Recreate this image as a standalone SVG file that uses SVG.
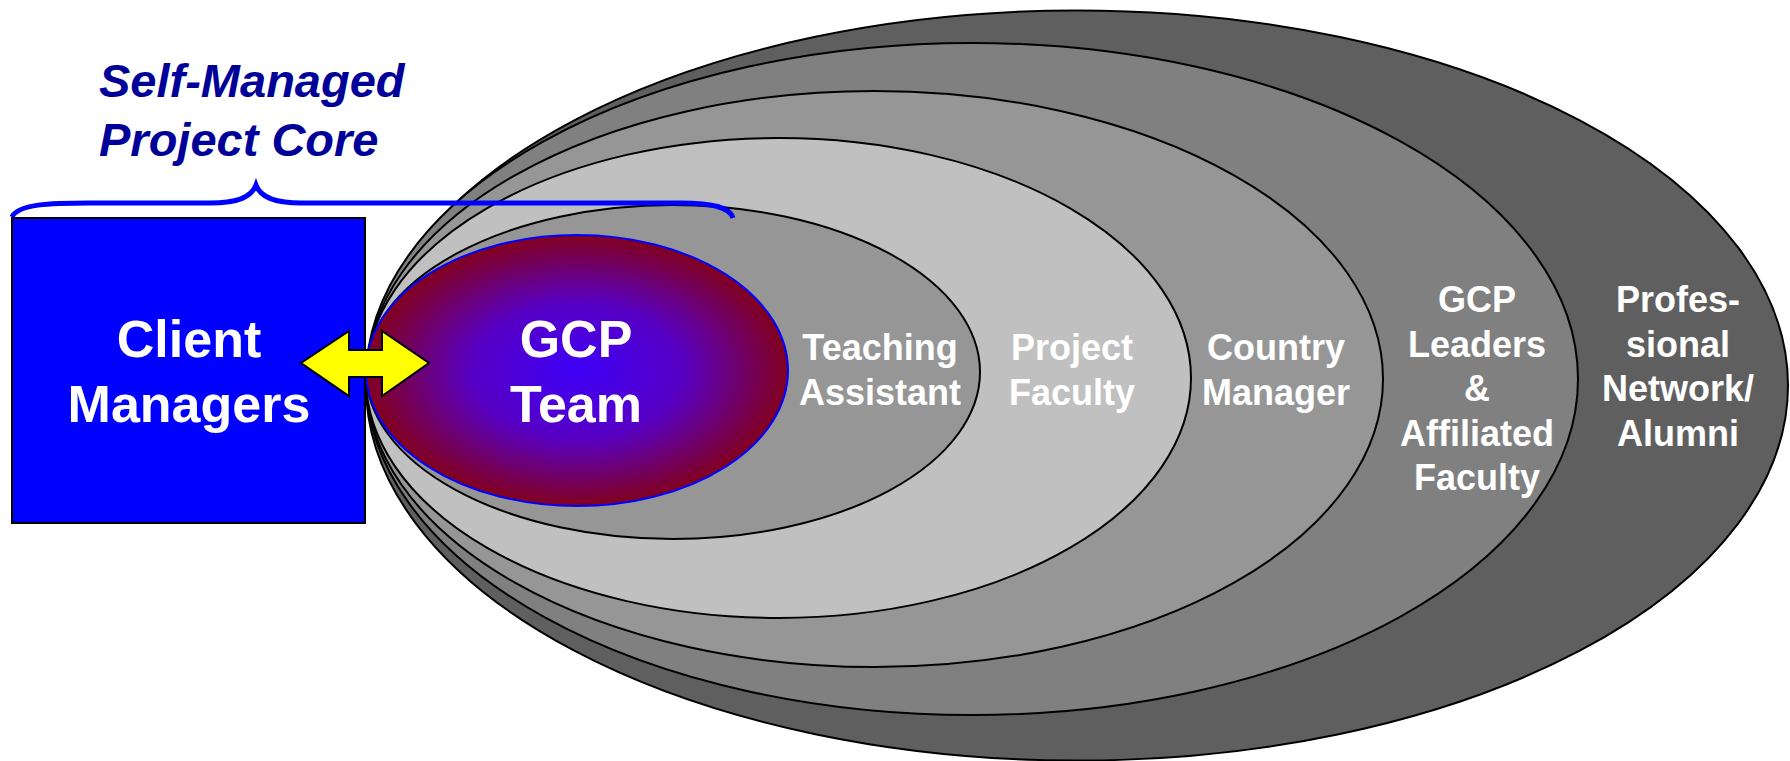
<svg xmlns="http://www.w3.org/2000/svg" width="1790" height="761" viewBox="0 0 1790 761">
  <defs>
    <radialGradient id="gcpGrad" cx="50%" cy="50%" r="50%">
      <stop offset="0" stop-color="#3d00f6"/>
      <stop offset="0.5" stop-color="#5800c4"/>
      <stop offset="1" stop-color="#82001e"/>
    </radialGradient>
  </defs>
  <style>
    .ring { stroke: #000; stroke-width: 2; }
    .lbl { font-family: "Liberation Sans", Arial, sans-serif; font-weight: bold; fill: #fff; text-anchor: middle; }
    .ring-lbl { font-size: 36px; }
    .big-lbl { font-size: 52px; }
    .title { font-family: "Liberation Sans", Arial, sans-serif; font-weight: bold; font-style: italic; font-size: 47px; fill: #000099; }
  </style>

  <g id="professional-network">
    <ellipse class="ring" cx="1077" cy="385.5" rx="711" ry="375" fill="#5f5f5f"/>
    <text class="lbl ring-lbl" x="1678" y="312">Profes-</text>
    <text class="lbl ring-lbl" x="1678" y="357">sional</text>
    <text class="lbl ring-lbl" x="1678" y="401">Network/</text>
    <text class="lbl ring-lbl" x="1678" y="446">Alumni</text>
  </g>

  <g id="gcp-leaders">
    <ellipse class="ring" cx="972" cy="379" rx="606" ry="336" fill="#808080"/>
    <text class="lbl ring-lbl" x="1477" y="312">GCP</text>
    <text class="lbl ring-lbl" x="1477" y="357">Leaders</text>
    <text class="lbl ring-lbl" x="1477" y="401">&amp;</text>
    <text class="lbl ring-lbl" x="1477" y="446">Affiliated</text>
    <text class="lbl ring-lbl" x="1477" y="490">Faculty</text>
  </g>

  <g id="country-manager">
    <ellipse class="ring" cx="874.5" cy="379" rx="508.5" ry="288" fill="#969696"/>
    <text class="lbl ring-lbl" x="1276" y="360">Country</text>
    <text class="lbl ring-lbl" x="1276" y="405">Manager</text>
  </g>

  <g id="project-faculty">
    <ellipse class="ring" cx="778.5" cy="378" rx="412.5" ry="240" fill="#c0c0c0"/>
    <text class="lbl ring-lbl" x="1072" y="360">Project</text>
    <text class="lbl ring-lbl" x="1072" y="405">Faculty</text>
  </g>

  <g id="teaching-assistant">
    <ellipse class="ring" cx="673" cy="372" rx="307" ry="167" fill="#969696"/>
    <text class="lbl ring-lbl" x="880" y="360">Teaching</text>
    <text class="lbl ring-lbl" x="880" y="405">Assistant</text>
  </g>

  <g id="gcp-team">
    <ellipse cx="577" cy="370.5" rx="211" ry="135.5" fill="url(#gcpGrad)" stroke="#0000ff" stroke-width="2"/>
    <text class="lbl big-lbl" x="576" y="357">GCP</text>
    <text class="lbl big-lbl" x="576" y="422">Team</text>
  </g>

  <g id="client-managers">
    <rect x="12" y="218" width="353" height="305" fill="#0000ff" stroke="#000" stroke-width="2"/>
    <text class="lbl big-lbl" x="189" y="357">Client</text>
    <text class="lbl big-lbl" x="189" y="422">Managers</text>
  </g>

  <g id="self-managed-core">
    <text class="title" x="99" y="97">Self-Managed</text>
    <text class="title" x="99" y="156">Project Core</text>
  </g>

  <g id="connectors">
    <path d="M12,217 C18,204 50,203 90,203 L210,203 C240,203 252,196 256,185 C260,196 272,203 302,203 L680,203 C715,203 730,208 733,218" fill="none" stroke="#0000ff" stroke-width="5"/>
    <polygon points="301,363 349,331 349,350 382,350 382,331 429,363 382,396 382,377 349,377 349,396" fill="#ffff00" stroke="#000" stroke-width="2" stroke-linejoin="miter"/>
  </g>
</svg>
